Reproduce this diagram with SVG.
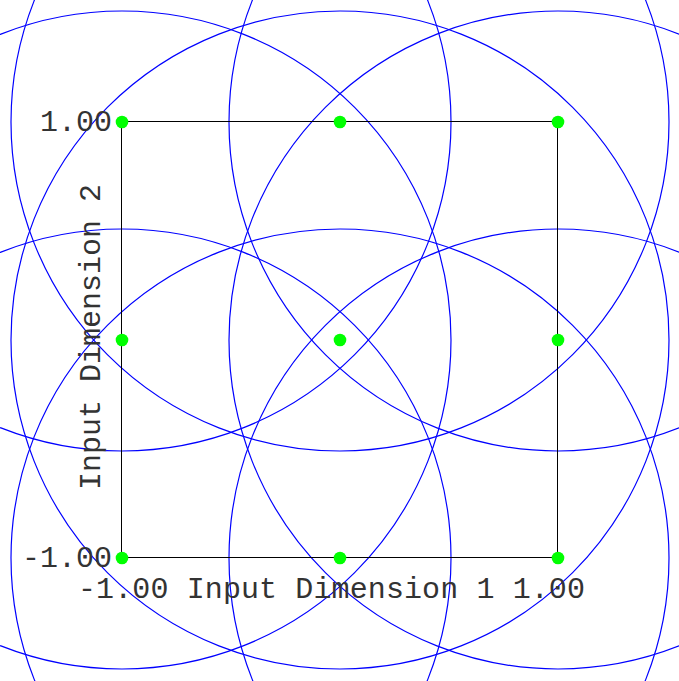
<svg xmlns="http://www.w3.org/2000/svg" width="679" height="681" viewBox="0 0 679 681">
<style>
.c{fill:none;stroke:#0000ff;stroke-width:1.2}
.p{fill:#00ff00}
.t{font-family:"Liberation Mono","Courier New",monospace;font-size:30px;fill:#333}
</style>
<rect width="679" height="681" fill="#fff"/>
<g id="circles">
<circle class="c" cx="122" cy="122" r="329"/>
<circle class="c" cx="340" cy="122" r="329"/>
<circle class="c" cx="558" cy="122" r="329"/>
<circle class="c" cx="122" cy="340" r="329"/>
<circle class="c" cx="340" cy="340" r="329"/>
<circle class="c" cx="558" cy="340" r="329"/>
<circle class="c" cx="122" cy="558" r="329"/>
<circle class="c" cx="340" cy="558" r="329"/>
<circle class="c" cx="558" cy="558" r="329"/>
</g>
<g id="frame">
<rect x="121.5" y="121.5" width="436" height="436" fill="none" stroke="#000" stroke-width="1"/>
</g>
<g id="points">
<circle class="p" cx="122" cy="122" r="6.3"/>
<circle class="p" cx="340" cy="122" r="6.3"/>
<circle class="p" cx="558" cy="122" r="6.3"/>
<circle class="p" cx="122" cy="340" r="6.3"/>
<circle class="p" cx="340" cy="340" r="6.3"/>
<circle class="p" cx="558" cy="340" r="6.3"/>
<circle class="p" cx="122" cy="558" r="6.3"/>
<circle class="p" cx="340" cy="558" r="6.3"/>
<circle class="p" cx="558" cy="558" r="6.3"/>
</g>
<g id="labels">
<text class="t" x="112" y="131" text-anchor="end">1.00</text>
<text class="t" x="112" y="567" text-anchor="end">-1.00</text>
<text class="t" x="78" y="598" textLength="507" lengthAdjust="spacing">-1.00 Input Dimension 1 1.00</text>
<text class="t" transform="translate(100,337) rotate(-90)" text-anchor="middle">Input Dimension 2</text>
</g>
</svg>
